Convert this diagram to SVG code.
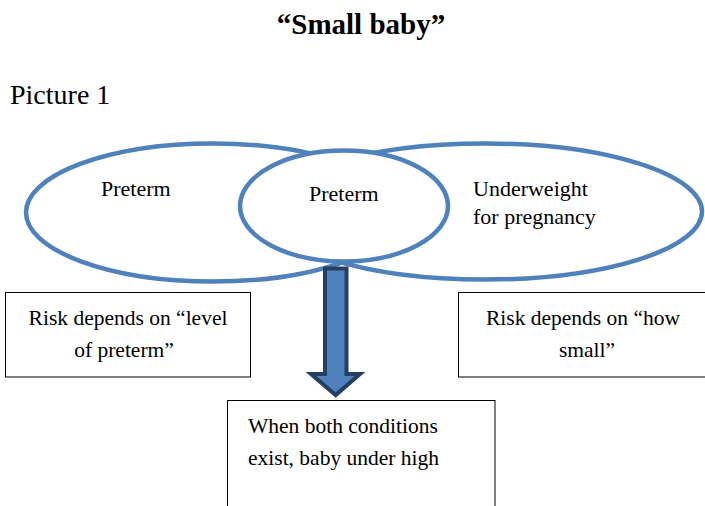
<svg xmlns="http://www.w3.org/2000/svg" width="705" height="506" viewBox="0 0 705 506">
<style>
.el{fill:#fff;stroke:#4F81BD;stroke-width:4.5}
.box{fill:#fff;stroke:#000;stroke-width:1}
</style>
<rect width="705" height="506" fill="#fff"/>
<g id="title"><text x="361" y="34" text-anchor="middle" font-family="Liberation Serif" font-size="29" font-weight="bold">“Small baby”</text></g>
<g id="picture-label"><text x="10" y="104" font-family="Liberation Serif" font-size="28">Picture 1</text></g>
<g id="ellipse-left">
<ellipse class="el" cx="213" cy="212.5" rx="187" ry="69"/>
<text x="101" y="196" font-family="Liberation Serif" font-size="22">Preterm</text>
</g>
<g id="ellipse-right">
<ellipse class="el" cx="485" cy="211.5" rx="217" ry="68"/>
<text x="473" y="196" font-family="Liberation Serif" font-size="22">Underweight</text>
<text x="473" y="224" font-family="Liberation Serif" font-size="22">for pregnancy</text>
</g>
<g id="ellipse-middle">
<ellipse class="el" cx="344" cy="206" rx="104" ry="55.5"/>
<text x="309" y="201" font-family="Liberation Serif" font-size="22">Preterm</text>
</g>
<g id="connectors">
<path d="M325 268.5 L346.5 268.5 L346.5 374 L360 374 L335.7 395 L311 374 L325 374 Z" fill="#4F81BD" stroke="#243F60" stroke-width="4" stroke-linejoin="miter"/>
</g>
<g id="box-left">
<rect class="box" x="5.5" y="292.5" width="245" height="84.5"/>
<text x="128" y="325" text-anchor="middle" font-family="Liberation Serif" font-size="21.5">Risk depends on “level</text>
<text x="124" y="357" text-anchor="middle" font-family="Liberation Serif" font-size="21.5">of preterm”</text>
</g>
<g id="box-right">
<rect class="box" x="458.5" y="292.5" width="250" height="84.5"/>
<text x="583" y="325" text-anchor="middle" font-family="Liberation Serif" font-size="21.5">Risk depends on “how</text>
<text x="587" y="357" text-anchor="middle" font-family="Liberation Serif" font-size="21.5">small”</text>
</g>
<g id="box-bottom">
<rect class="box" x="227.5" y="400.5" width="267.5" height="110"/>
<text x="248" y="433" font-family="Liberation Serif" font-size="21.5">When both conditions</text>
<text x="248" y="465" font-family="Liberation Serif" font-size="21.5">exist, baby under high</text>
</g>
</svg>
